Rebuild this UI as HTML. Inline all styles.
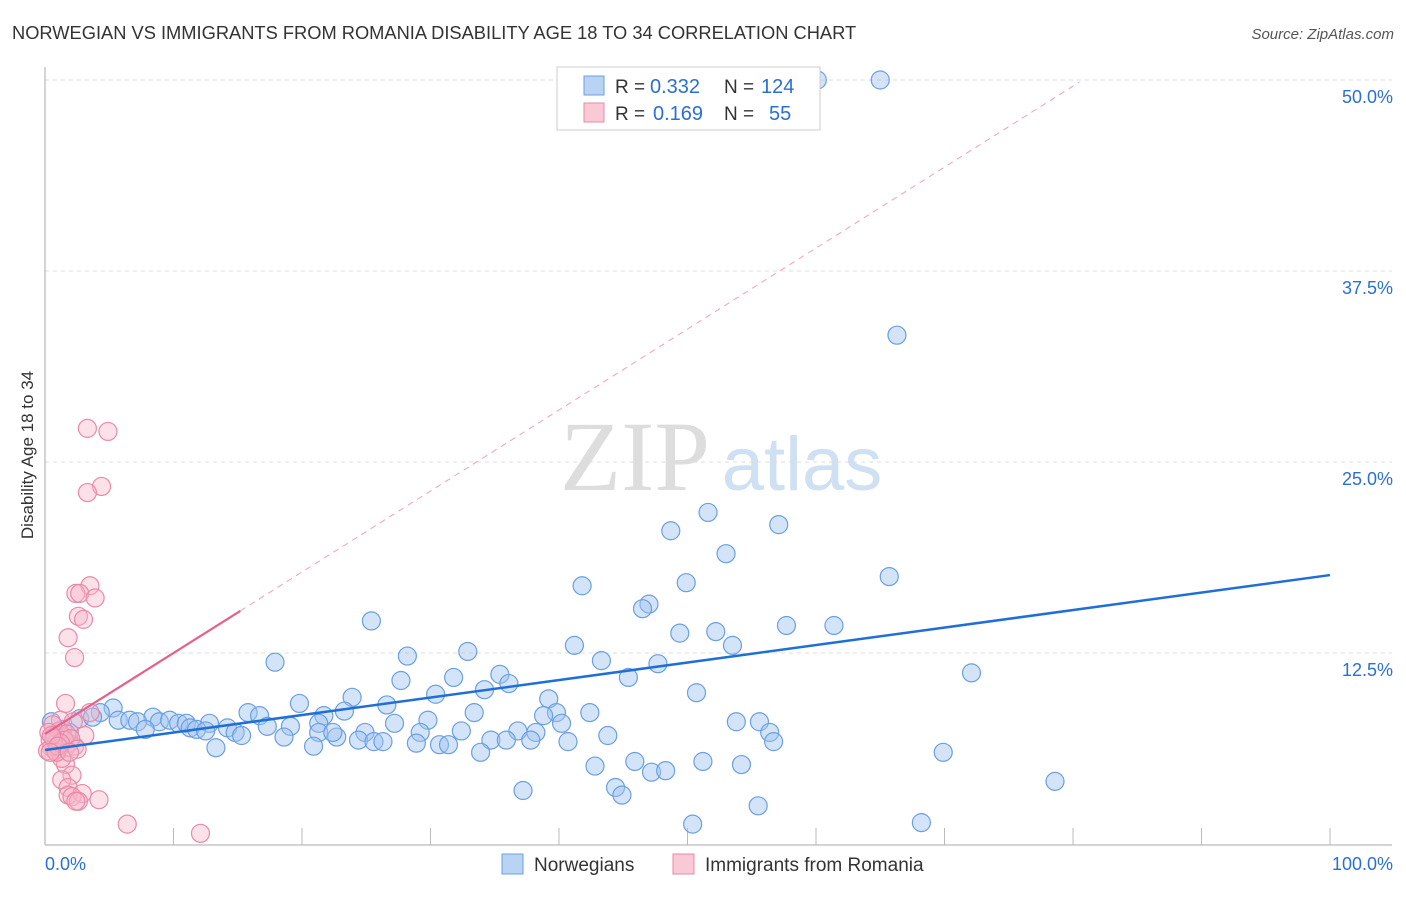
<!DOCTYPE html>
<html><head><meta charset="utf-8"><style>
body{margin:0;background:#fff;font-family:"Liberation Sans",sans-serif;}
</style></head><body>
<svg id="c" width="1406" height="892" xmlns="http://www.w3.org/2000/svg">
<text x="12" y="39" font-size="18.3" fill="#333">NORWEGIAN VS IMMIGRANTS FROM ROMANIA DISABILITY AGE 18 TO 34 CORRELATION CHART</text>
<text x="1394" y="39" font-size="15" fill="#555" font-style="italic" text-anchor="end">Source: ZipAtlas.com</text>
<g>
<text x="635" y="490" font-size="100" font-family="Liberation Serif,serif" fill="#ddd" text-anchor="middle">ZIP</text>
<text x="802" y="490" font-size="76" fill="#cfe0f3" text-anchor="middle">atlas</text>
</g>
<g id="grid"></g><g id="marks"></g>
<text transform="translate(33,455) rotate(-90)" font-size="17" fill="#333" text-anchor="middle">Disability Age 18 to 34</text>
<g>
<rect x="557" y="67" width="263" height="63" fill="#fff" stroke="#ccc"/>
<rect x="584" y="76" width="20" height="19" fill="#b8d3f3" stroke="#6a9fe0"/>
<rect x="584" y="103" width="20" height="19" fill="#f9c9d6" stroke="#e88aa8"/>
<text x="615" y="93" font-size="19" fill="#333">R =</text>
<text x="650" y="93" font-size="20" fill="#2a6fd6">0.332</text>
<text x="724" y="93" font-size="19" fill="#333">N =</text>
<text x="761" y="93" font-size="20" fill="#2a6fd6">124</text>
<text x="615" y="120" font-size="19" fill="#333">R =</text>
<text x="653" y="120" font-size="20" fill="#2a6fd6">0.169</text>
<text x="724" y="120" font-size="19" fill="#333">N =</text>
<text x="769" y="120" font-size="20" fill="#2a6fd6">55</text>
</g>
<g>
<rect x="502" y="854" width="21" height="20" fill="#b8d3f3" stroke="#6a9fe0"/>
<text x="534" y="871" font-size="19" fill="#333">Norwegians</text>
<rect x="673" y="854" width="21" height="20" fill="#f9c9d6" stroke="#e88aa8"/>
<text x="705" y="871" font-size="19" fill="#333">Immigrants from Romania</text>
</g>
</svg>
<script>
const blueX=[60.1,65.0,66.3,51.6,57.1,48.7,53.0,65.7,41.8,49.9,47.0,46.5,25.4,57.7,61.4,49.4,52.2,41.2,53.5,32.9,28.2,43.3,17.9,47.7,72.1,35.4,31.8,27.7,45.4,36.1,34.2,50.7,23.9,30.4,39.2,19.8,26.6,33.4,23.3,39.8,42.4,38.8,15.8,16.7,21.7,29.8,27.2,53.8,55.6,40.2,5.3,4.3,2.7,3.7,8.4,5.7,6.6,7.2,8.9,9.7,10.4,11.0,11.3,12.8,7.8,11.8,12.5,14.2,14.8,15.3,17.3,19.1,21.3,18.6,21.3,22.7,22.4,24.9,24.4,25.6,26.3,29.2,32.4,36.8,38.2,34.7,35.9,37.8,28.9,30.7,31.4,40.7,43.8,56.4,56.7,20.9,13.3,33.9,69.9,45.9,51.2,42.8,54.2,47.2,48.3,78.6,37.2,44.4,44.9,55.5,50.4,68.2,0.5,0.8,1.9,1.2,1.4];
const blueY=[50.0,50.0,33.3,21.7,20.9,20.5,19.0,17.5,16.9,17.1,15.7,15.4,14.6,14.3,14.3,13.8,13.9,13.0,13.0,12.6,12.3,12.0,11.9,11.8,11.2,11.1,10.9,10.7,10.9,10.5,10.1,9.9,9.6,9.8,9.5,9.2,9.1,8.6,8.7,8.6,8.6,8.4,8.6,8.4,8.4,8.1,7.9,8.0,8.0,7.9,8.9,8.6,8.2,8.3,8.3,8.1,8.1,8.0,8.0,8.1,7.9,7.9,7.6,7.9,7.5,7.5,7.4,7.6,7.3,7.1,7.7,7.7,7.9,7.0,7.3,7.0,7.3,7.3,6.8,6.7,6.7,7.3,7.4,7.4,7.3,6.8,6.8,6.8,6.6,6.5,6.5,6.7,7.1,7.3,6.7,6.4,6.3,6.0,6.0,5.4,5.4,5.1,5.2,4.7,4.8,4.1,3.5,3.7,3.2,2.5,1.3,1.4,8.0,7.1,7.3,6.5,7.5];
const pinkX=[3.3,4.9,4.4,3.3,3.5,2.4,2.7,3.9,2.6,3.0,1.8,2.3,1.6,3.5,1.2,2.2,3.1,0.4,0.9,1.3,0.5,1.0,1.6,1.9,0.8,0.2,1.4,2.3,1.1,0.6,1.7,1.6,1.3,2.1,1.3,1.8,1.8,2.9,2.1,2.6,2.4,4.2,6.4,12.1,0.3,0.7,1.5,2.0,0.9,1.2,0.5,2.5,1.0,0.4,1.9];
const pinkY=[27.2,27.0,23.4,23.0,16.9,16.4,16.4,16.1,14.9,14.7,13.5,12.2,9.2,8.6,8.1,8.0,7.1,6.8,6.7,6.5,6.3,6.2,6.3,6.6,6.1,6.1,7.0,6.4,7.4,7.8,7.2,5.2,5.6,4.5,4.2,3.7,3.2,3.3,3.1,2.8,2.8,2.9,1.3,0.7,7.3,6.9,6.8,6.9,6.0,6.6,7.1,6.2,6.4,6.0,6.0];
const yTicks=[12.5,25,37.5,50];
const blueTrend=[6.15,17.6];
const pinkTrend=[7.2,0.53];
const X=v=>45+v*12.85, Y=v=>844-v*15.28;
const NS='http://www.w3.org/2000/svg';
const g=document.getElementById('grid'), m=document.getElementById('marks');
function mk(p,tag,a){const e=document.createElementNS(NS,tag);for(const k in a)e.setAttribute(k,a[k]);p.appendChild(e);return e;}
yTicks.forEach(t=>{
 const l=mk(g,'line',{x1:45,x2:1392,y1:Y(t),y2:Y(t),stroke:'#ddd','stroke-dasharray':'4,4'});
 
 
 const tx=mk(g,'text',{x:1393,y:Y(t)+23,'font-size':18,fill:'#2a6fd6','text-anchor':'end'});tx.textContent=t.toFixed(1)+'%';
 
 
});
const ax=mk(g,'line',{x1:45,x2:1392,y1:845,y2:845,stroke:'#aaa'});


const ay=mk(g,'line',{x1:45,x2:45,y1:67,y2:845,stroke:'#aaa'});


for(let i=1;i<=10;i++){const t=mk(g,'line',{x1:X(i*10),x2:X(i*10),y1:828,y2:845,stroke:'#bbb'});}
[['0.0%',45,'start'],['100.0%',1393,'end']].forEach(d=>{const t=mk(g,'text',{x:d[1],y:870,'font-size':18,fill:'#2a6fd6','text-anchor':d[2]});t.textContent=d[0];});
blueX.forEach((x,i)=>{const c=mk(m,'circle',{cx:X(x),cy:Y(blueY[i]),r:9,fill:'rgba(160,196,240,0.45)',stroke:'#6a9fe0','stroke-width':1.2});
 
 });
pinkX.forEach((x,i)=>{const c=mk(m,'circle',{cx:X(x),cy:Y(pinkY[i]),r:9,fill:'rgba(248,180,200,0.4)',stroke:'#e88aa8','stroke-width':1.2});
 
 });
const bl=mk(m,'line',{x1:X(0),y1:Y(blueTrend[0]),x2:X(100),y2:Y(blueTrend[1]),stroke:'#1f6fd6','stroke-width':2.5});


const pd=mk(m,'line',{x1:X(15.2),y1:Y(pinkTrend[0]+pinkTrend[1]*15.2),x2:X(80.5),y2:Y(pinkTrend[0]+pinkTrend[1]*80.5),stroke:'#f0a0b8','stroke-width':1,'stroke-dasharray':'6,5'});


const ps=mk(m,'line',{x1:X(0),y1:Y(pinkTrend[0]),x2:X(15.2),y2:Y(pinkTrend[0]+pinkTrend[1]*15.2),stroke:'#e8608a','stroke-width':2.2});


</script>
</body></html>
